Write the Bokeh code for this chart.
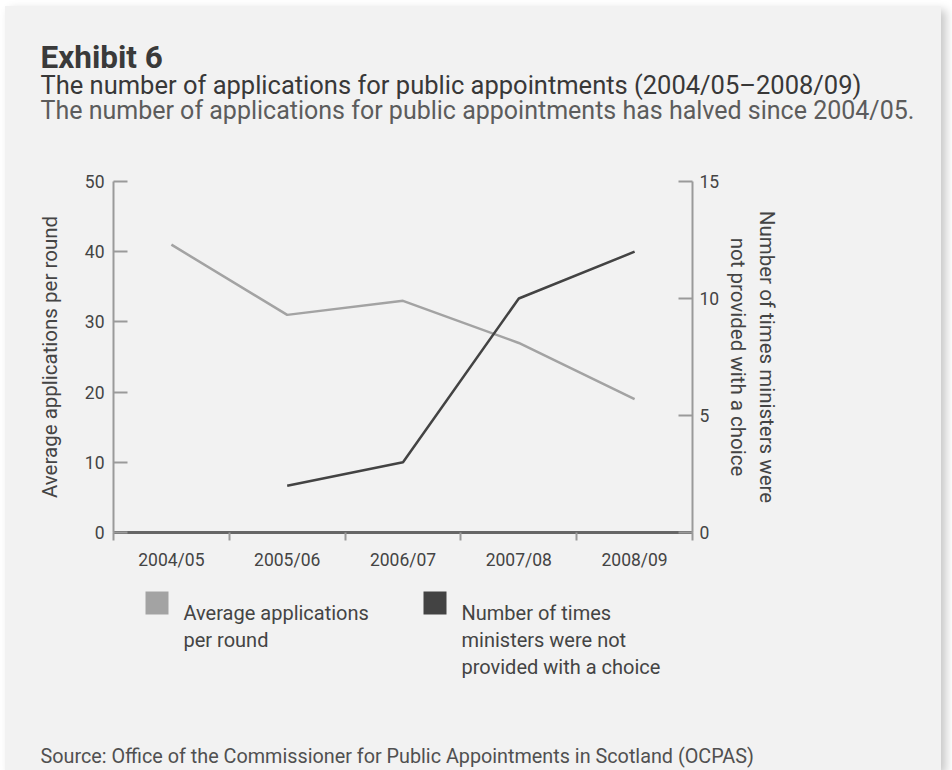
import math

from bokeh.embed import file_html
from bokeh.resources import INLINE
from bokeh.layouts import column
from bokeh.plotting import figure
from bokeh.models import Range1d, LinearAxis, FixedTicker, Label

# ---- data -------------------------------------------------------------
years = ["2004/05", "2005/06", "2006/07", "2007/08", "2008/09"]
avg_applications = [41, 31, 33, 27, 19]
no_choice_count = [None, 2, 3, 10, 12]
left_ticks = [0, 10, 20, 30, 40, 50]
right_ticks = [0, 5, 10, 15]

series_names = ["Average applications per round",
                "Number of times ministers were not provided with a choice"]
key_lines = [["Average applications", "per round"],
             ["Number of times", "ministers were not", "provided with a choice"]]

FONT = "Roboto"
TEXT = "#444444"
LIGHT = "#a3a3a3"
DARK = "#434343"
PANEL = "#f2f2f2"
W = 936

# each year sits in the middle of its own unit-wide band
xpos = [i + 0.5 for i in range(len(years))]
ministers = [float("nan") if v is None else v for v in no_choice_count]


def text_panel(top, bottom):
    """A bare figure whose data coordinates are page pixels."""
    f = figure(width=W, height=bottom - top, output_backend="svg",
               toolbar_location=None, x_range=Range1d(5, 5 + W),
               y_range=Range1d(bottom, top), min_border=0,
               background_fill_color=PANEL, border_fill_color=PANEL,
               outline_line_color=None, x_axis_type=None, y_axis_type=None)
    f.frame_align = False
    f.grid.visible = False
    return f


def text(f, s, x, y, size, color=TEXT, style="normal"):
    f.add_layout(Label(x=x, y=y, text=s, text_font=FONT, text_font_size=size,
                       text_font_style=style, text_color=color,
                       text_align="left", text_baseline="alphabetic"))


# ---- heading -----------------------------------------------------------
head = text_panel(6, 160)
text(head, "Exhibit 6", 40, 57, "31.5px", color="#3a3a3a", style="bold")
text(head, "The number of applications for public appointments (2004/05\u20132008/09)",
     40, 84, "25.5px", color="#383838")
text(head, "The number of applications for public appointments has halved since 2004/05.",
     40, 110, "25px", color="#5c5c5c")

# ---- chart -------------------------------------------------------------
p = figure(width=W, height=420, output_backend="svg", toolbar_location=None,
           x_range=Range1d(0, len(years)), y_range=Range1d(0, 50),
           min_border_left=108, min_border_right=249,
           min_border_top=21, min_border_bottom=48,
           background_fill_color=PANEL, border_fill_color=PANEL,
           outline_line_color=None, x_axis_type=None, y_axis_type=None)
p.grid.visible = False
p.extra_y_ranges = {"right": Range1d(0, 15)}


def style_axis(ax):
    ax.major_label_text_font = FONT
    ax.major_label_text_font_size = "17.5px"
    ax.major_label_text_color = TEXT
    ax.axis_line_color = "#9a9a9a"
    ax.axis_line_width = 2
    ax.major_tick_line_color = "#9a9a9a"
    ax.major_tick_line_width = 2
    ax.minor_tick_line_color = None
    ax.axis_label_text_font = FONT
    ax.axis_label_text_font_size = "20.5px"
    ax.axis_label_text_font_style = "normal"
    ax.axis_label_text_color = TEXT


left = LinearAxis(ticker=FixedTicker(ticks=left_ticks),
                  axis_label="Average applications per round")
style_axis(left)
left.major_tick_in = 14
left.major_tick_out = 0
left.major_label_standoff = 9
left.axis_label_standoff = 20
p.add_layout(left, "left")

right = LinearAxis(y_range_name="right", ticker=FixedTicker(ticks=right_ticks),
                   axis_label="Number of times ministers were\nnot provided with a choice")
style_axis(right)
right.major_tick_in = 14
right.major_tick_out = 0
right.major_label_standoff = 7
right.axis_label_standoff = 4
p.add_layout(right, "right")

bottom = LinearAxis(ticker=FixedTicker(ticks=xpos,
                                       minor_ticks=list(range(len(years) + 1))))
style_axis(bottom)
bottom.axis_line_color = "#666666"
bottom.axis_line_width = 3
bottom.major_tick_line_color = None
bottom.major_tick_in = 0
bottom.major_tick_out = 0
bottom.minor_tick_line_color = "#9a9a9a"
bottom.minor_tick_line_width = 2
bottom.minor_tick_in = 0
bottom.minor_tick_out = 8
bottom.major_label_standoff = 9
bottom.major_label_overrides = {x: y for x, y in zip(xpos, years)}
p.add_layout(bottom, "below")

p.line(xpos, avg_applications, line_color=LIGHT, line_width=2.5,
       name=series_names[0])
p.line(xpos, ministers, line_color=DARK, line_width=2.5, y_range_name="right",
       name=series_names[1])

# ---- key and source ----------------------------------------------------
foot = text_panel(580, 770)
key_x = [145, 423]          # left edge of each swatch
swatch = 23
foot.quad(left=key_x, right=[x + swatch for x in key_x],
          top=[591, 591], bottom=[591 + swatch] * 2,
          fill_color=[LIGHT, DARK], line_color=None)
for x, lines in zip(key_x, key_lines):
    for i, s in enumerate(lines):
        text(foot, s, x + 38, 612 + 27 * i, "20px")

text(foot, "Source: Office of the Commissioner for Public Appointments in Scotland (OCPAS)",
     40, 756, "19.8px", color="#505050")

page = column(head, p, foot, spacing=0)
page.margin = (6, 0, 0, 5)
page.styles = {"box-shadow": "5px 4px 9px rgba(0,0,0,0.22)",
               "background-color": PANEL}

open("out.html", "w").write(file_html(page, INLINE))
